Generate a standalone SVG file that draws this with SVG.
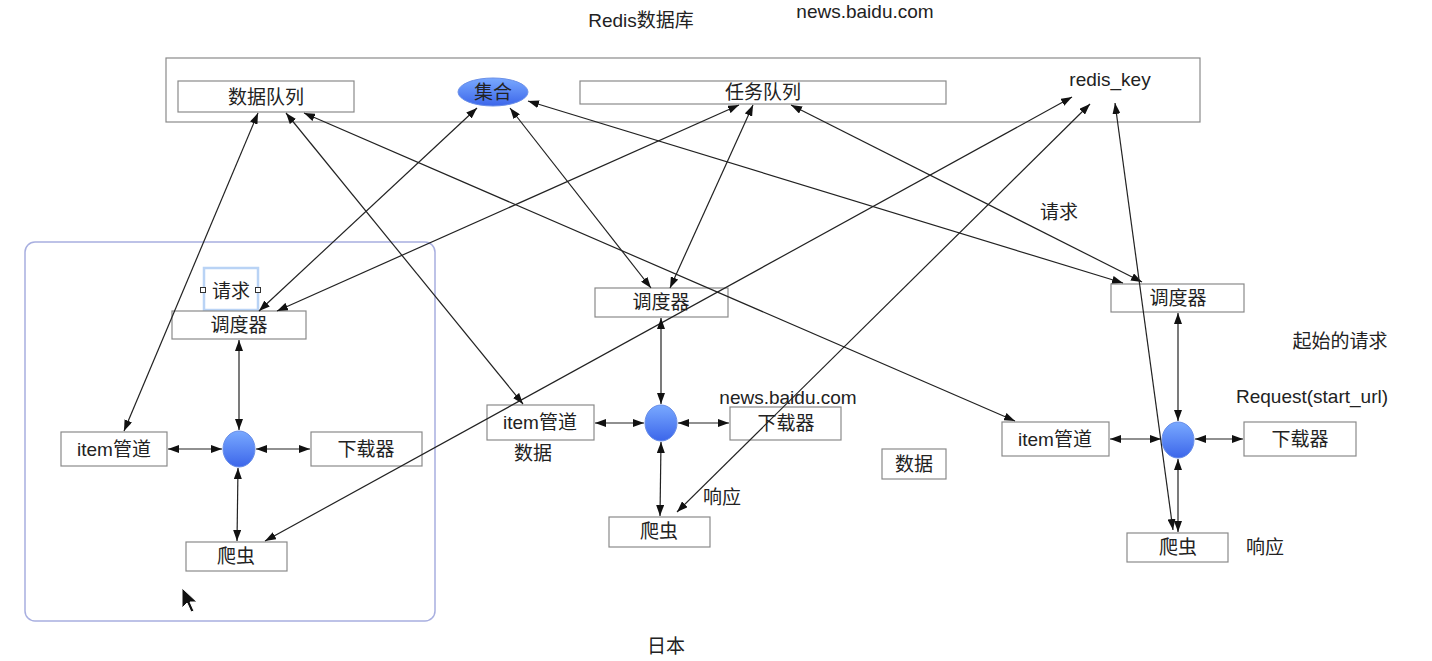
<svg xmlns="http://www.w3.org/2000/svg" width="1432" height="661" viewBox="0 0 1432 661">
<defs>
<marker id="ah" markerUnits="userSpaceOnUse" markerWidth="11" markerHeight="8" refX="11" refY="4" orient="auto-start-reverse">
<path d="M0,0 L11,4 L0,8 z" fill="#111"/>
</marker>
<linearGradient id="ball" x1="0" y1="0" x2="0" y2="1">
<stop offset="0" stop-color="#79a9ff"/>
<stop offset="1" stop-color="#3c66ea"/>
</linearGradient>
<style>
text{font-family:"Liberation Sans","Noto Sans CJK SC",sans-serif;font-size:19px;fill:#222;text-anchor:middle}
.box{fill:#fff;stroke:#8a8a8a;stroke-width:1.2}
.ball{fill:url(#ball);stroke:#6a8fe8;stroke-width:1}
.c line{stroke:#222;stroke-width:1.2;marker-start:url(#ah);marker-end:url(#ah)}
</style>
</defs>
<rect width="1432" height="661" fill="#fff"/>

<g id="labels">
<text x="641" y="27">Redis数据库</text>
<text x="865" y="18">news.baidu.com</text>
<text x="1059" y="219">请求</text>
<text x="1340" y="348">起始的请求</text>
<text x="1312" y="403">Request(start_url)</text>
<text x="788" y="404">news.baidu.com</text>
<text x="533" y="460">数据</text>
<text x="722" y="504">响应</text>
<text x="1265" y="554">响应</text>
<text x="666" y="653">日本</text>
</g>

<g id="redis">
<rect class="box" x="166" y="58" width="1034" height="64"/>
<text x="1110" y="86">redis_key</text>
</g>
<g id="data-queue"><rect class="box" x="178" y="81" width="176" height="31"/><text x="266" y="104">数据队列</text></g>
<g id="set"><ellipse class="ball" cx="493" cy="92" rx="35" ry="14"/><text x="493" y="99">集合</text></g>
<g id="task-queue"><rect class="box" x="580" y="81" width="366" height="23"/><text x="763" y="99">任务队列</text></g>

<g id="group-left">
<rect x="25" y="242" width="410" height="379" rx="10" fill="none" stroke="#a8afe0" stroke-width="1.5"/>
</g>
<g id="req-left">
<rect x="204" y="268" width="54" height="42" fill="none" stroke="#b9d3f5" stroke-width="2.5"/>
<rect x="200.5" y="287.5" width="5" height="5" fill="#fff" stroke="#333" stroke-width="1"/>
<rect x="255.5" y="287.5" width="5" height="5" fill="#fff" stroke="#333" stroke-width="1"/>
<text x="231" y="298">请求</text>
</g>
<g id="sched-left"><rect class="box" x="172" y="311" width="134" height="28"/><text x="239" y="332">调度器</text></g>
<g id="engine-left"><ellipse class="ball" cx="239" cy="449" rx="16" ry="18"/></g>
<g id="item-left"><rect class="box" x="61" y="432" width="106" height="34"/><text x="114" y="456">item管道</text></g>
<g id="dl-left"><rect class="box" x="311" y="432" width="111" height="34"/><text x="366" y="456">下载器</text></g>
<g id="spider-left"><rect class="box" x="186" y="542" width="101" height="29"/><text x="236" y="563">爬虫</text></g>

<g id="sched-mid"><rect class="box" x="595" y="288" width="133" height="29"/><text x="661" y="309">调度器</text></g>
<g id="engine-mid"><ellipse class="ball" cx="661" cy="423" rx="16" ry="18"/></g>
<g id="item-mid"><rect class="box" x="487" y="405" width="107" height="35"/><text x="540" y="429">item管道</text></g>
<g id="dl-mid"><rect class="box" x="730" y="407" width="111" height="33"/><text x="786" y="430">下载器</text></g>
<g id="spider-mid"><rect class="box" x="609" y="517" width="101" height="30"/><text x="659" y="538">爬虫</text></g>

<g id="sched-right"><rect class="box" x="1111" y="284" width="133" height="28"/><text x="1178" y="305">调度器</text></g>
<g id="engine-right"><ellipse class="ball" cx="1178" cy="440" rx="16" ry="18"/></g>
<g id="item-right"><rect class="box" x="1002" y="422" width="107" height="34"/><text x="1055" y="446">item管道</text></g>
<g id="dl-right"><rect class="box" x="1244" y="422" width="112" height="34"/><text x="1300" y="446">下载器</text></g>
<g id="spider-right"><rect class="box" x="1127" y="533" width="101" height="29"/><text x="1178" y="554">爬虫</text></g>

<g id="data-box"><rect class="box" x="882" y="449" width="64" height="30"/><text x="914" y="471">数据</text></g>

<g id="connectors" class="c">
<line x1="258" y1="113" x2="124" y2="431"/>
<line x1="286" y1="113" x2="523" y2="404"/>
<line x1="304" y1="113" x2="1015" y2="421"/>
<line x1="477" y1="108" x2="259" y2="311"/>
<line x1="510" y1="108" x2="651" y2="288"/>
<line x1="528" y1="101" x2="1123" y2="283"/>
<line x1="739" y1="105" x2="277" y2="311"/>
<line x1="753" y1="105" x2="670" y2="288"/>
<line x1="791" y1="105" x2="1142" y2="282"/>
<line x1="1072" y1="97" x2="265" y2="541"/>
<line x1="1090" y1="104" x2="677" y2="512"/>
<line x1="1115" y1="103" x2="1173" y2="530"/>
<line x1="239" y1="340" x2="239" y2="430"/>
<line x1="168" y1="449" x2="222" y2="449"/>
<line x1="256" y1="449" x2="310" y2="449"/>
<line x1="238" y1="468" x2="237" y2="541"/>
<line x1="661" y1="318" x2="661" y2="404"/>
<line x1="595" y1="423" x2="644" y2="423"/>
<line x1="678" y1="423" x2="729" y2="423"/>
<line x1="661" y1="442" x2="660" y2="516"/>
<line x1="1178" y1="313" x2="1178" y2="421"/>
<line x1="1110" y1="439" x2="1161" y2="439"/>
<line x1="1195" y1="439" x2="1243" y2="439"/>
<line x1="1178" y1="459" x2="1178" y2="532"/>
</g>

<g id="cursor">
<path d="M182,588 L182,608 L187,603 L191,612 L194,611 L190,602 L197,602 z" fill="#111" stroke="#fff" stroke-width="1"/>
</g>
</svg>
